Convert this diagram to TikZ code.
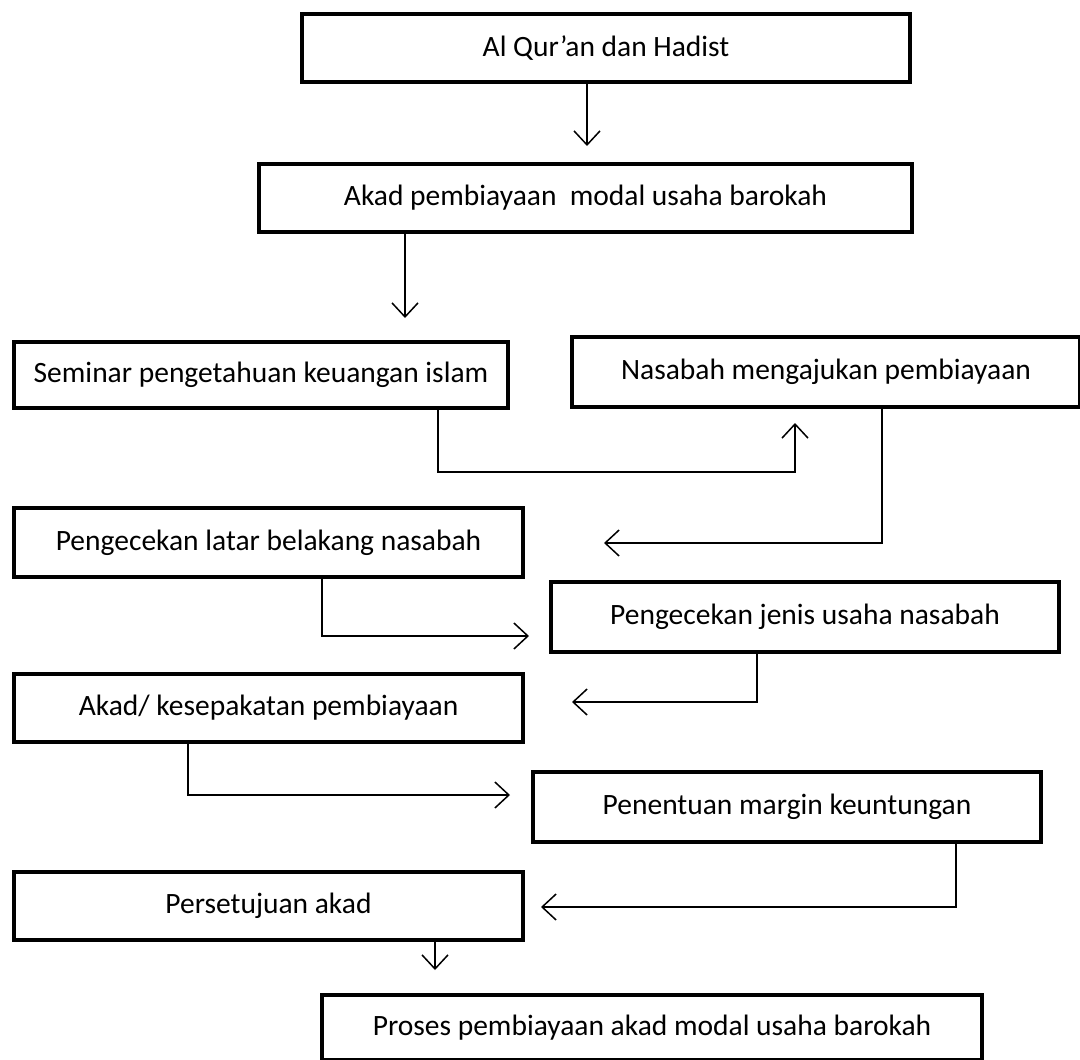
\documentclass[tikz,border=0pt]{standalone}
\usepackage{fontspec}
\setmainfont{Carlito}
\usetikzlibrary{arrows.meta}
\begin{document}
\begin{tikzpicture}[x=1pt,y=-1pt,
  box/.style={draw, line width=4pt, rectangle, inner sep=0pt, anchor=north west,
              font=\fontsize{29.5}{35}\selectfont},
  link/.style={line width=1.5pt},
  arr/.style={link, -{Straight Barb[length=14pt,width=26pt,line width=1.5pt]}}]
\useasboundingbox (0,0) rectangle (1080,1060);

% process boxes
\node[box, minimum width=608pt, minimum height=68pt] (b1) at (300,12) {Al Qur’an dan Hadist};
\node[box, minimum width=653pt, minimum height=68pt] (b2) at (257,162) {Akad pembiayaan~ modal usaha barokah};
\node[box, minimum width=494pt, minimum height=66pt] (b3) at (12,340) {Seminar pengetahuan keuangan islam};
\node[box, minimum width=508pt, minimum height=70pt] (b4) at (570,335) {Nasabah mengajukan pembiayaan};
\node[box, minimum width=509pt, minimum height=69pt] (b5) at (12,506) {Pengecekan latar belakang nasabah};
\node[box, minimum width=508pt, minimum height=70pt] (b6) at (549,580) {Pengecekan jenis usaha nasabah};
\node[box, minimum width=509pt, minimum height=68pt] (b7) at (12,672) {Akad/ kesepakatan pembiayaan};
\node[box, minimum width=508pt, minimum height=70pt] (b8) at (531,770) {Penentuan margin keuntungan};
\node[box, minimum width=509pt, minimum height=68pt] (b9) at (12,870) {Persetujuan akad};
\node[box, minimum width=660pt, minimum height=65pt] (b10) at (320,993) {Proses pembiayaan akad modal usaha barokah};

% arrow tips that stop short of the next box
\coordinate (t1) at (587,146);
\coordinate (t2) at (405,318);
\coordinate (t3) at (795,423);
\coordinate (t4) at (604,543);
\coordinate (t5) at (529,636);
\coordinate (t6) at (572,702);
\coordinate (t7) at (510,795);
\coordinate (t8) at (541,907);
\coordinate (t9) at (435,970);

% connectors
\draw[arr] (b1.south -| t1) -- (t1);
\draw[arr] (b2.south -| t2) -- (t2);
\draw[arr] ([xshift=177pt]b3.south) -- ++(0,62) -| (t3);
\draw[arr] ([xshift=56pt]b4.south) |- (t4);
\draw[arr] ([xshift=53.5pt]b5.south) |- (t5);
\draw[arr] ([xshift=-48pt]b6.south) |- (t6);
\draw[arr] ([xshift=-80.5pt]b7.south) |- (t7);
\draw[arr] ([xshift=169pt]b8.south) |- (t8);
\draw[arr] (b9.south -| t9) -- (t9);
\end{tikzpicture}
\end{document}
